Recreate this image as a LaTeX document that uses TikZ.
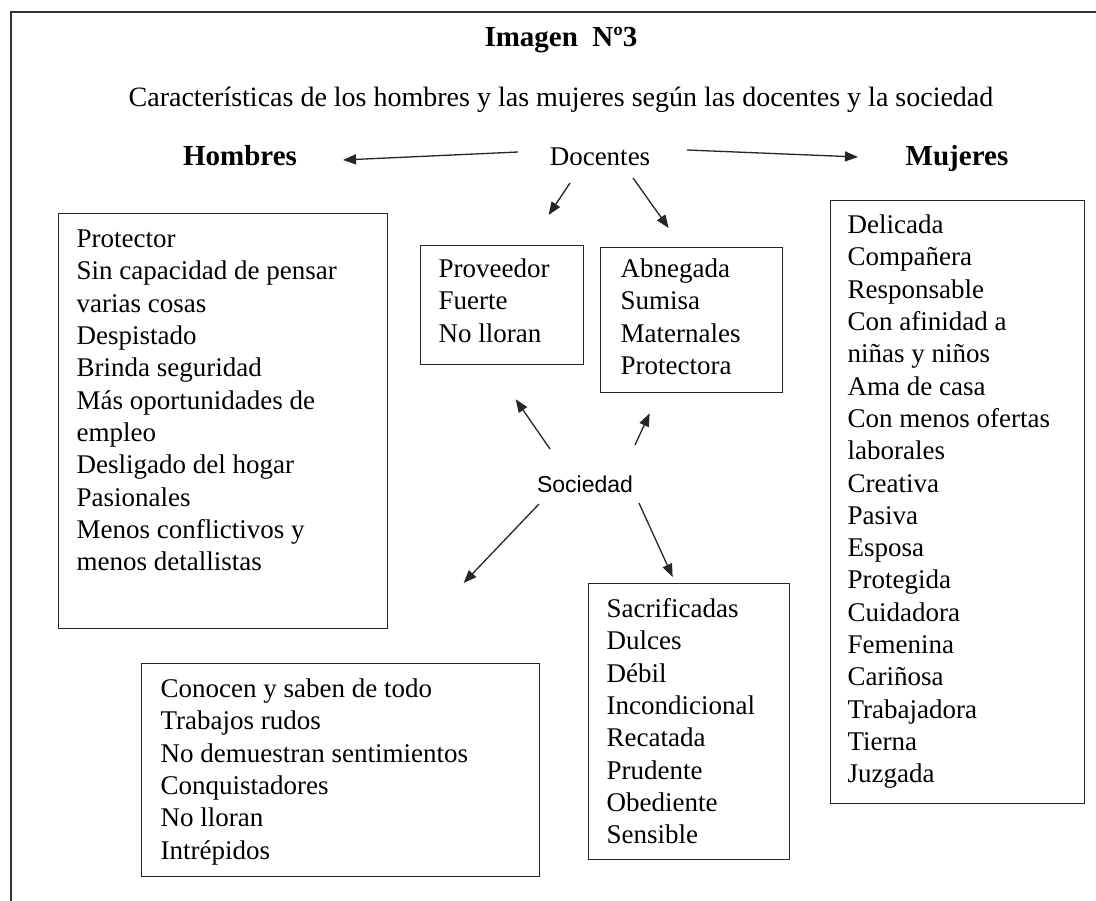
\documentclass[tikz,border=0pt]{standalone}
\usepackage{fontspec}
\setmainfont{Liberation Serif}
\newfontfamily\socfont{Liberation Sans}
\usetikzlibrary{arrows.meta,calc}
\newcommand{\listbox}[5]{\parbox[c][#2][t]{#1}{\fontsize{27}{32.3}\selectfont\raggedright\leftskip=#3\relax\rule{0pt}{#4}#5}}
\tikzset{
  lbox/.style={draw=black!85, line width=1.3pt, inner sep=0pt, anchor=north west},
  lbl/.style={inner sep=0pt, anchor=base, font=\fontsize{27}{32}\selectfont},
  head/.style={inner sep=0pt, anchor=base, font=\bfseries\fontsize{29}{34}\selectfont},
  arr/.style={draw=black!85, line width=1.3pt, -{Triangle[length=13pt,width=10pt]}},
  frame/.style={draw=black!80, line width=2.8pt}
}
\begin{document}
\begin{tikzpicture}[x=1pt,y=-1pt]
\useasboundingbox (0,0) rectangle (1096,901);
\fill[white] (0,0) rectangle (1096,901);
\draw[frame] (1096,12) -- (11,12) -- (11,901);

\node[head] (t) at (561,47) {Imagen\hspace{0.5em}Nº3};
\node[lbl, font=\fontsize{28}{33}\selectfont] (sub) at (561,107) {Características de los hombres y las mujeres según las docentes y la sociedad};
\node[head] (h) at (240,166) {Hombres};
\node[head] (m) at (957,166) {Mujeres};
\node[lbl] (d) at (600,166) {Docentes};
\node[inner sep=0pt, anchor=base, font=\socfont\fontsize{23}{27}\selectfont] (s) at (585,492) {Sociedad};

\node[lbox] (hbox) at (58,213) {\listbox{329pt}{415pt}{18pt}{34pt}{Protector\\Sin capacidad de pensar\\varias cosas\\Despistado\\Brinda seguridad\\Más oportunidades de\\empleo\\Desligado del hogar\\Pasionales\\Menos conflictivos y\\menos detallistas}};
\node[lbox] (pbox) at (420,245) {\listbox{163pt}{119pt}{18pt}{32pt}{Proveedor\\Fuerte\\No lloran}};
\node[lbox] (abox) at (600,247) {\listbox{182pt}{145pt}{20pt}{30pt}{Abnegada\\Sumisa\\Maternales\\Protectora}};
\node[lbox] (mbox) at (830,200) {\listbox{254pt}{603pt}{17pt}{33pt}{Delicada\\Compañera\\Responsable\\Con afinidad a\\niñas y niños\\Ama de casa\\Con menos ofertas\\laborales\\Creativa\\Pasiva\\Esposa\\Protegida\\Cuidadora\\Femenina\\Cariñosa\\Trabajadora\\Tierna\\Juzgada}};
\node[lbox] (cbox) at (141,663) {\listbox{398pt}{213pt}{19pt}{34pt}{Conocen y saben de todo\\Trabajos rudos\\No demuestran sentimientos\\Conquistadores\\No lloran\\Intrépidos}};
\node[lbox] (sbox) at (588,583) {\listbox{201pt}{276pt}{18pt}{34pt}{Sacrificadas\\Dulces\\Débil\\Incondicional\\Recatada\\Prudente\\Obediente\\Sensible}};

\draw[arr] ($(d.base)+(-82,-14)$) -- ($(h.base)+(103,-6)$);
\draw[arr] ($(d.base)+(87,-16)$) -- ($(m.base)+(-99,-9)$);
\draw[arr] ($(d.base)+(-30,17)$) -- ($(pbox.north)+(46.5,-30)$);
\draw[arr] ($(d.base)+(33,12)$) -- ($(abox.north)+(-23,-19)$);
\draw[arr] ($(s.base)+(-35,-43)$) -- ($(pbox.south)+(13.5,34)$);
\draw[arr] ($(s.base)+(50,-47)$) -- ($(abox.south)+(-42,20)$);
\draw[arr] ($(s.base)+(54,11)$) -- ($(sbox.north)+(-16.5,-6)$);
\draw[arr] ($(s.base)+(-46,12)$) -- ($(cbox.north)+(123,-80)$);
\end{tikzpicture}
\end{document}
